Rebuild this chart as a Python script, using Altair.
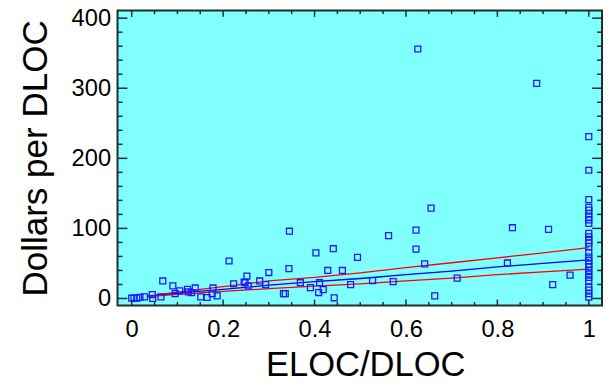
import altair as alt
import pandas as pd

# ---- scatter data ----
x_vals = [0.0, 0.005, 0.011, 0.018, 0.028, 0.045, 0.046, 0.064, 0.068, 0.090,
          0.095, 0.105, 0.122, 0.124, 0.131, 0.139, 0.151, 0.165, 0.178, 0.176,
          0.187, 0.213, 0.223, 0.246, 0.248, 0.252, 0.255, 0.280, 0.293, 0.300,
          0.332, 0.336, 0.344, 0.345, 0.369, 0.391, 0.403, 0.409, 0.411, 0.419,
          0.429, 0.441, 0.443, 0.461, 0.479, 0.494, 0.527, 0.562, 0.572, 0.622,
          0.622, 0.641, 0.655, 0.663, 0.712, 0.822, 0.833, 0.912, 0.921, 0.959,
          0.626, 0.886]
y_vals = [0.5, 0.5, 0.5, 1.5, 2.3, 5.6, 0, 2.3, 25, 18,
          7, 11, 13, 9.4, 8.5, 15, 2.3, 1.4, 15, 7,
          3.8, 53.5, 21, 23.5, 22.5, 32, 18, 25, 19.7, 37,
          7, 7, 42.7, 96, 22.5, 15.5, 65, 8.5, 22.5, 12.7,
          40, 71, 1, 40, 19.7, 58.7, 25.4, 89.7, 24, 97.6,
          70.4, 49.3, 129, 3.8, 29, 50.7, 101, 98.6, 19.7, 33.4,
          356, 307]
# points stacked at ELOC/DLOC = 1
col1_x = 1.0
col1_y = [231, 183, 141, 130, 126, 121, 116, 112, 107, 93, 88, 83, 79, 74,
          65, 59, 54, 49, 45, 40, 35, 30, 25, 16, 12, 7, 2]

# ---- fitted line and bands ----
line_x = [0.035, 0.1, 0.2, 0.3, 0.4, 0.5, 0.6, 0.7, 0.8, 0.9, 1.0]
mid_y = [3, 7.5, 13, 19, 24, 28.5, 34, 39, 45, 50, 55]
upper_y = [3.5, 9, 17, 25, 30, 36.5, 44, 51, 58, 65, 72.5]
lower_y = [2.5, 6, 10, 14, 17.5, 21, 25, 29, 34, 38, 42]

# ---- ticks / labels ----
x_major = [0, 0.2, 0.4, 0.6, 0.8, 1.0]
x_minor = [0.05, 0.1, 0.15, 0.25, 0.3, 0.35, 0.45, 0.5, 0.55, 0.65, 0.7, 0.75,
           0.85, 0.9, 0.95]
y_major = [0, 100, 200, 300, 400]
y_minor = [20, 40, 60, 80, 120, 140, 160, 180, 220, 240, 260, 280, 320, 340,
           360, 380]

W, H = 491, 299
FONT = "Liberation Sans"
BORDER = "#1c2e2e"

xscale = alt.Scale(domain=[-0.031, 1.029], nice=False, zero=False)
yscale = alt.Scale(domain=[-10, 411], nice=False, zero=False)

xaxis = alt.Axis(values=x_major, format="~g", ticks=False, domain=False,
                 grid=False, labelFontSize=24, labelFont=FONT,
                 labelColor="black", labelPadding=31,
                 labelBaseline="alphabetic", labelFlush=False,
                 labelOverlap=False, labelBound=False,
                 titleFont=FONT, titleFontSize=35, titleFontWeight="normal",
                 titleColor="black", titleBaseline="alphabetic", titleY=71,
                 titleX=251, titleAlign="center")
yaxis = alt.Axis(values=y_major, format="d", ticks=False, domain=False,
                 grid=False, labelFontSize=24, labelFont=FONT,
                 labelColor="black", labelPadding=7,
                 labelFlush=False, labelOverlap=False, labelBound=False,
                 titleFont=FONT, titleFontSize=35.5, titleFontWeight="normal",
                 titleColor="black", titleBaseline="alphabetic",
                 titleX=-72, titleAngle=270)


def X():
    return alt.X("x:Q", scale=xscale, title="ELOC/DLOC", axis=xaxis)


def Y():
    return alt.Y("y:Q", scale=yscale, title="Dollars per DLOC", axis=yaxis)


pts = pd.DataFrame({"x": x_vals + [col1_x] * len(col1_y),
                    "y": y_vals + col1_y})

lines = pd.concat([
    pd.DataFrame({"x": line_x, "y": upper_y, "s": "upper"}),
    pd.DataFrame({"x": line_x, "y": mid_y, "s": "mid"}),
    pd.DataFrame({"x": line_x, "y": lower_y, "s": "lower"}),
])

line_layer = alt.Chart(lines).mark_line(strokeWidth=1.3).encode(
    x=X(), y=Y(),
    color=alt.Color("s:N", scale=alt.Scale(domain=["upper", "mid", "lower"],
                                           range=["#ff0000", "#0000ff", "#ff0000"]),
                    legend=None),
    detail="s:N",
)

point_layer = alt.Chart(pts).mark_point(shape="square", filled=False, size=36,
                                        strokeWidth=1.3, color="#1a1aff",
                                        opacity=1).encode(x=X(), y=Y())


def xticks(vals, length, bottom):
    df = pd.DataFrame({"x": vals})
    y0 = H if bottom else 0
    y1 = H - length if bottom else length
    return alt.Chart(df).mark_rule(color=BORDER, strokeWidth=1.5).encode(
        x=X(), y=alt.value(y0), y2=alt.value(y1))


def yticks(vals, length, left):
    df = pd.DataFrame({"y": vals})
    x0 = 0 if left else W
    x1 = length if left else W - length
    return alt.Chart(df).mark_rule(color=BORDER, strokeWidth=1.5).encode(
        y=Y(), x=alt.value(x0), x2=alt.value(x1))


tick_layers = [
    xticks(x_major, 6, True), xticks(x_minor, 3.5, True),
    xticks(x_major, 6.5, False), xticks(x_minor, 3.7, False),
    yticks(y_major, 10, True), yticks(y_minor, 5, True),
    yticks(y_major, 10, False), yticks(y_minor, 5, False),
]

chart = alt.layer(line_layer, point_layer, *tick_layers).properties(
    width=W, height=H,
    autosize=alt.AutoSizeParams(type="none"),
    padding={"left": 111, "top": 0, "right": 3, "bottom": 71},
    background="white",
).configure_view(fill="#80ffff", stroke=BORDER, strokeWidth=2)

chart.save("out.html", embed_options={"renderer": "svg", "actions": False})
